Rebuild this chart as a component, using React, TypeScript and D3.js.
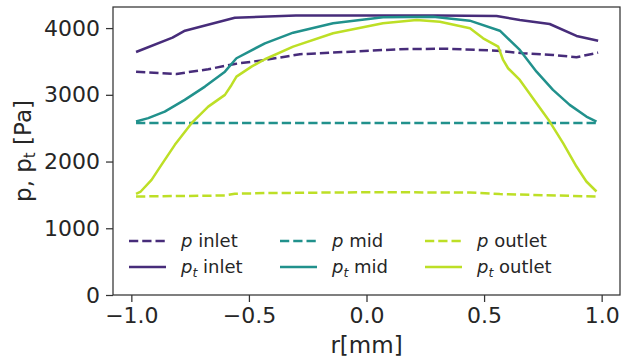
import { useEffect, useRef } from 'react';
import * as d3 from 'd3';

// data
const rPtInlet = [-0.98, -0.825, -0.772, -0.56, -0.3, 0.0, 0.3, 0.553, 0.652, 0.779, 0.893, 0.985];
const ptInlet = [3642, 3856, 3961, 4156, 4188, 4190, 4188, 4181, 4121, 4061, 3882, 3811];

const rPInlet = [-0.98, -0.808, -0.673, -0.56, -0.432, -0.283, 0.14, 0.325, 0.553, 0.666, 0.793, 0.893, 0.985];
const pInlet = [3347, 3313, 3383, 3463, 3522, 3608, 3683, 3692, 3662, 3623, 3597, 3563, 3632];

const rPtMid = [-0.98, -0.928, -0.858, -0.773, -0.687, -0.602, -0.553, -0.432, -0.312, -0.142, 0.07, 0.283, 0.439, 0.567, 0.652, 0.723, 0.793, 0.864, 0.935, 0.978];
const ptMid = [2599, 2650, 2749, 2924, 3123, 3347, 3548, 3772, 3931, 4072, 4162, 4171, 4111, 3961, 3672, 3347, 3073, 2849, 2674, 2599];

const rPMid = [-0.98, 0.0, 0.98];
const pMid = [2577, 2577, 2577];

const rPtOutlet = [-0.98, -0.96, -0.914, -0.872, -0.815, -0.744, -0.673, -0.602, -0.574, -0.553, -0.489, -0.432, -0.312, -0.142, 0.07, 0.213, 0.312, 0.44, 0.496, 0.56, 0.581, 0.602, 0.652, 0.723, 0.779, 0.836, 0.893, 0.935, 0.978];
const ptOutlet = [1517, 1551, 1726, 1951, 2250, 2575, 2823, 2999, 3148, 3272, 3422, 3533, 3722, 3922, 4072, 4121, 4096, 3997, 3847, 3722, 3522, 3398, 3223, 2874, 2599, 2275, 1925, 1701, 1551];

const rPOutlet = [-0.98, -0.602, -0.56, -0.432, 0.0, 0.44, 0.567, 0.98];
const pOutlet = [1476, 1491, 1517, 1527, 1540, 1536, 1512, 1476];

const xTicks = [-1.0, -0.5, 0.0, 0.5, 1.0];
const yTicks = [0, 1000, 2000, 3000, 4000];

const colInlet = '#472c7a';
const colMid = '#21918c';
const colOutlet = '#bddf26';

const series = [
  { r: rPInlet, v: pInlet, color: colInlet, dashed: true, name: 'p', loc: 'inlet' },
  { r: rPtInlet, v: ptInlet, color: colInlet, dashed: false, name: 'pt', loc: 'inlet' },
  { r: rPMid, v: pMid, color: colMid, dashed: true, name: 'p', loc: 'mid' },
  { r: rPtMid, v: ptMid, color: colMid, dashed: false, name: 'pt', loc: 'mid' },
  { r: rPOutlet, v: pOutlet, color: colOutlet, dashed: true, name: 'p', loc: 'outlet' },
  { r: rPtOutlet, v: ptOutlet, color: colOutlet, dashed: false, name: 'pt', loc: 'outlet' },
];

export default function App() {
  const svgRef = useRef<SVGSVGElement>(null);

  useEffect(() => {
    if (!svgRef.current) return;
    const width = 623;
    const height = 361;
    const m = { left: 113, right: 3, top: 7, bottom: 66 };
    const font = 'DejaVu Sans';
    const ink = '#262626';

    const svg = d3.select(svgRef.current);
    svg.selectAll('*').remove();
    svg.attr('width', width).attr('height', height);

    const x = d3.scaleLinear().domain([-1.078, 1.078]).range([m.left, width - m.right]);
    const y = d3.scaleLinear().domain([0, 4316]).range([height - m.bottom, m.top]);

    const line = d3.line<[number, number]>()
      .x(d => x(d[0]))
      .y(d => y(d[1]));

    series.forEach(s => {
      svg.append('path')
        .datum(s.r.map((r, i) => [r, s.v[i]] as [number, number]))
        .attr('d', line)
        .attr('fill', 'none')
        .attr('stroke', s.color)
        .attr('stroke-width', 2.5)
        .attr('stroke-linejoin', 'round')
        .attr('stroke-dasharray', s.dashed ? '9.25,4' : null);
    });

    // frame
    svg.append('rect')
      .attr('x', m.left).attr('y', m.top)
      .attr('width', width - m.left - m.right)
      .attr('height', height - m.top - m.bottom)
      .attr('fill', 'none').attr('stroke', '#333').attr('stroke-width', 1.25);

    // x axis
    const gx = svg.append('g')
      .attr('transform', `translate(0,${height - m.bottom})`)
      .call(d3.axisBottom(x).tickValues(xTicks).tickSize(7).tickPadding(5)
        .tickFormat(d => d3.format('.1f')(d as number).replace('-', '\u2212')));
    gx.select('.domain').remove();
    gx.selectAll('line').attr('stroke', '#333').attr('stroke-width', 1.25);
    gx.selectAll('text').attr('fill', ink).attr('font-family', font).attr('font-size', 22);

    const gy = svg.append('g')
      .attr('transform', `translate(${m.left},0)`)
      .call(d3.axisLeft(y).tickValues(yTicks).tickSize(7).tickPadding(6).tickFormat(d3.format('d')));
    gy.select('.domain').remove();
    gy.selectAll('line').attr('stroke', '#333').attr('stroke-width', 1.25);
    gy.selectAll('text').attr('fill', ink).attr('font-family', font).attr('font-size', 22);

    // axis labels
    svg.append('text')
      .attr('x', (m.left + width - m.right) / 2).attr('y', 353)
      .attr('text-anchor', 'middle').attr('fill', ink)
      .attr('font-family', font).attr('font-size', 23)
      .text('r[mm]');

    const yl = svg.append('text')
      .attr('transform', `translate(31,${(m.top + height - m.bottom) / 2}) rotate(-90)`)
      .attr('text-anchor', 'middle').attr('fill', ink)
      .attr('font-family', font).attr('font-size', 23);
    yl.append('tspan').text('p, p');
    yl.append('tspan').attr('font-size', 15).attr('dy', 4).text('t');
    yl.append('tspan').attr('dy', -4).text(' [Pa]');

    // legend
    const colX = [129, 280, 425];
    const rowY = [241, 267];
    series.forEach((s, i) => {
      const cx = colX[Math.floor(i / 2)];
      const cy = rowY[i % 2];
      svg.append('line')
        .attr('x1', cx).attr('x2', cx + 37)
        .attr('y1', cy).attr('y2', cy)
        .attr('stroke', s.color).attr('stroke-width', 2.5)
        .attr('stroke-dasharray', s.dashed ? '9.25,4' : null);
      const t = svg.append('text')
        .attr('x', cx + 52).attr('y', cy + 6)
        .attr('fill', ink).attr('font-family', font).attr('font-size', 18);
      t.append('tspan').attr('font-style', 'italic').text('p');
      if (s.name === 'pt') {
        t.append('tspan').attr('font-style', 'italic').attr('font-size', 12.5).attr('dy', 4).text('t');
        t.append('tspan').attr('dy', -4).text(' ' + s.loc);
      } else {
        t.append('tspan').text(' ' + s.loc);
      }
    });
  }, []);

  return (
    <svg ref={svgRef} style={{ position: 'absolute', left: 0, top: 0, display: 'block' }} />
  );
}
